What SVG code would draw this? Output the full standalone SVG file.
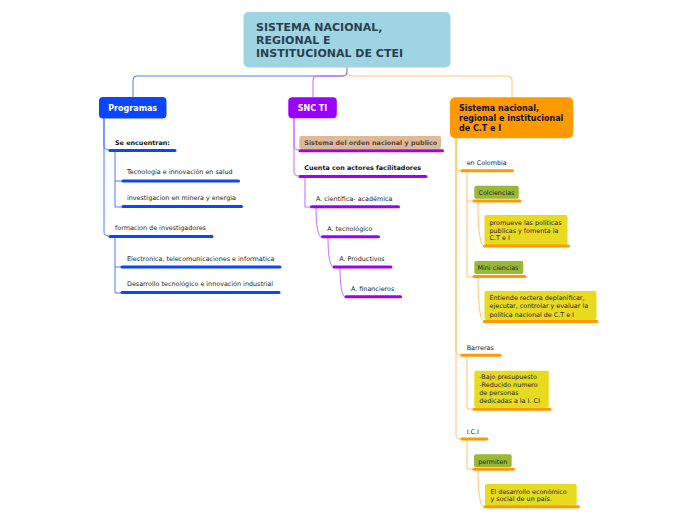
<svg xmlns="http://www.w3.org/2000/svg" width="696" height="520" viewBox="0 0 696 520">
<style>
text{font-family:"DejaVu Sans",Verdana,sans-serif;}
.t{font-size:6.4px;fill:#222;}
.tb{font-size:6.4px;font-weight:bold;fill:#111;}
.h{font-size:8px;font-weight:bold;}
.c{fill:none;stroke-width:1;}
.ub{stroke:#0a46ff;stroke-width:3;stroke-linecap:round;}
.up{stroke:#9900ff;stroke-width:3;stroke-linecap:round;}
.uo{stroke:#ff9900;stroke-width:3;stroke-linecap:round;}
.lb{stroke:#4d7aff;}
.lp{stroke:#bd6bff;}
.lo{stroke:#ffc46e;}
.grn{fill:#9bb834;}
.yel{fill:#e8da1f;}
</style>
<rect width="696" height="520" fill="#ffffff"/>
<g id="connectors">
<path class="c lb" d="M347,67 V72 Q347,76 343,76 H137 Q133,76 133,80 V97"/>
<path class="c lp" d="M347,67 V72 Q347,76 343,76 H317 Q313,76 313,80 V97" stroke="#9900ff"/>
<path class="c lo" d="M347,67 V72 Q347,76 351,76 H508 Q512,76 512,80 V97" stroke="#ff9900"/>
<path class="c lb" d="M104,118 V146 Q104,150 109,150"/>
<path class="c lb" d="M104,118 V232 Q104,236 109,236"/>
<path class="c lb" d="M115,151 V181 H122 M115,181 V207 H122"/>
<path class="c lb" d="M115,237 V267 H121 M115,267 V293 H121"/>
<path class="c lp" d="M294,118 V146 Q294,150 299,150"/>
<path class="c lp" d="M294,118 V172 Q294,176 299,176"/>
<path class="c lp" d="M305,177 V207 H311"/>
<path class="c lp" d="M316,207 C316,226 318,237 322,237"/>
<path class="c lp" d="M328,237 C328,256 330,267 334,267"/>
<path class="c lp" d="M340,267 C340,286 342,297 346,297"/>
<path class="c lo" d="M456,138 V167 Q456,171 461,171"/>
<path class="c lo" d="M456,138 V351 Q456,355 461,355"/>
<path class="c lo" d="M456,138 V435 Q456,439 461,439"/>
<path class="c lo" d="M467,171 V201 H473 M467,201 V277 H473"/>
<path class="c lo" d="M478,201 C478,228 480,246 484,246"/>
<path class="c lo" d="M478,277 C478,302 480,321 484,321"/>
<path class="c lo" d="M467,355 V409 H473"/>
<path class="c lo" d="M467,439 V469 H473"/>
<path class="c lo" d="M478,469 C478,492 480,507 484,507"/>
</g>
<g id="root">
<rect x="243.5" y="12" width="207" height="55.5" rx="5" fill="#9fd5e3"/>
<text x="256" y="31" font-size="11" font-weight="bold" fill="#2d3e50">SISTEMA NACIONAL,</text>
<text x="256" y="44" font-size="11" font-weight="bold" fill="#2d3e50">REGIONAL E</text>
<text x="256" y="57" font-size="11" font-weight="bold" fill="#2d3e50">INSTITUCIONAL DE CTEI</text>
</g>
<g id="programas">
<rect x="99" y="97" width="67.5" height="21.5" rx="4" fill="#0a46ff"/>
<text class="h" x="132.7" y="111" text-anchor="middle" fill="#ffffff">Programas</text>
</g>
<g id="se-encuentran">
<text class="tb" x="115" y="144.5">Se encuentran:</text>
<line class="ub" x1="110" y1="150.5" x2="175" y2="150.5"/>
</g>
<g id="tecnologia-salud">
<text class="t" x="127" y="174">Tecnología e innovación en salud</text>
<line class="ub" x1="123" y1="181" x2="238.5" y2="181"/>
</g>
<g id="investigacion-minera">
<text class="t" x="127" y="200">investigacion en minera y energia</text>
<line class="ub" x1="123" y1="206.5" x2="241.5" y2="206.5"/>
</g>
<g id="formacion">
<text class="t" x="115" y="230">formacion de investigadores</text>
<line class="ub" x1="110" y1="236.5" x2="212" y2="236.5"/>
</g>
<g id="electronica">
<text class="t" x="127" y="260.5">Electronica, telecomunicaciones e informatica</text>
<line class="ub" x1="122" y1="267" x2="280" y2="267"/>
</g>
<g id="desarrollo-tecnologico">
<text class="t" x="127" y="286">Desarrollo tecnológico e innovación industrial</text>
<line class="ub" x1="122" y1="292.5" x2="279" y2="292.5"/>
</g>
<g id="snc-ti">
<rect x="288.3" y="97.3" width="48.5" height="21" rx="4" fill="#9900ff"/>
<text class="h" x="312.5" y="111" text-anchor="middle" fill="#ffffff">SNC TI</text>
</g>
<g id="sistema-orden">
<rect x="299.3" y="136" width="141.7" height="13" rx="2" fill="#deb897"/>
<text class="tb" x="304.3" y="145" fill="#5a4636" style="fill:#5a4636">Sistema del orden nacional y publico</text>
<line class="up" x1="300" y1="150.7" x2="442.5" y2="150.7"/>
</g>
<g id="cuenta-actores">
<text class="tb" x="304.3" y="170">Cuenta con actores facilitadores</text>
<line class="up" x1="300" y1="176.5" x2="426" y2="176.5"/>
</g>
<g id="a-cientifica">
<text class="t" x="316" y="200.5">A. científica- académica</text>
<line class="up" x1="311.5" y1="206.8" x2="398.5" y2="206.8"/>
</g>
<g id="a-tecnologico">
<text class="t" x="327.3" y="230.5">A. tecnológico</text>
<line class="up" x1="322.5" y1="236.7" x2="378.5" y2="236.7"/>
</g>
<g id="a-productivos">
<text class="t" x="339.3" y="260.5">A. Productivos</text>
<line class="up" x1="334" y1="267" x2="391" y2="267"/>
</g>
<g id="a-financieros">
<text class="t" x="351" y="290.5">A. financieros</text>
<line class="up" x1="346" y1="296.7" x2="400.5" y2="296.7"/>
</g>
<g id="sistema-nacional">
<rect x="450" y="97.3" width="123.3" height="41" rx="5" fill="#ff9900"/>
<text class="h" x="459" y="110.7" fill="#111">Sistema nacional,</text>
<text class="h" x="459" y="121" fill="#111">regional e institucional</text>
<text class="h" x="459" y="131" fill="#111">de C.T e I</text>
</g>
<g id="en-colombia">
<text class="t" x="466.7" y="164.5">en Colombia</text>
<line class="uo" x1="462" y1="170.7" x2="512.5" y2="170.7"/>
</g>
<g id="colciencias">
<rect class="grn" x="474.3" y="185.7" width="44.5" height="13" rx="2"/>
<text class="t" x="478.5" y="194.5">Colciencias</text>
<line class="uo" x1="474" y1="201" x2="520" y2="201"/>
</g>
<g id="promueve">
<rect class="yel" x="484.5" y="215" width="83" height="30" rx="2"/>
<text class="t" x="489.5" y="225">promueve las politicas</text>
<text class="t" x="489.5" y="232.5">publicas y fomenta la</text>
<text class="t" x="489.5" y="240">C.T e I</text>
<line class="uo" x1="484.5" y1="246" x2="568.5" y2="246"/>
</g>
<g id="mini-ciencias">
<rect class="grn" x="474.3" y="261" width="49" height="13" rx="2"/>
<text class="t" x="477.5" y="269.5">Mini ciencias</text>
<line class="uo" x1="474" y1="276.5" x2="525" y2="276.5"/>
</g>
<g id="entiende">
<rect class="yel" x="484.5" y="291" width="112" height="29" rx="2"/>
<text class="t" x="489.5" y="300">Entiende rectera deplanificar,</text>
<text class="t" x="489.5" y="308.3">ejecutar, controlar y evaluar la</text>
<text class="t" x="489.5" y="316.6">politica nacional de C.T e I</text>
<line class="uo" x1="484.5" y1="321.5" x2="597" y2="321.5"/>
</g>
<g id="barreras">
<text class="t" x="466.7" y="349.5">Barreras</text>
<line class="uo" x1="462" y1="355.3" x2="500" y2="355.3"/>
</g>
<g id="bajo-presupuesto">
<rect class="yel" x="474.3" y="370.7" width="74.5" height="37" rx="2"/>
<text class="t" x="479.3" y="378.5">-Bajo presupuesto</text>
<text class="t" x="479.3" y="386.7">-Reducido numero</text>
<text class="t" x="479.3" y="395">de personas</text>
<text class="t" x="479.3" y="403">dedicadas a la I. CI</text>
<line class="uo" x1="474" y1="409.3" x2="550" y2="409.3"/>
</g>
<g id="ici">
<text class="t" x="466.7" y="433.5">I.C.I</text>
<line class="uo" x1="462" y1="439" x2="487" y2="439"/>
</g>
<g id="permiten">
<rect class="grn" x="474" y="454.3" width="37.7" height="13" rx="2"/>
<text class="t" x="478.3" y="463.5">permiten</text>
<line class="uo" x1="474" y1="469.3" x2="513.5" y2="469.3"/>
</g>
<g id="el-desarrollo">
<rect class="yel" x="485" y="484" width="91.7" height="21.5" rx="2"/>
<text class="t" x="490.5" y="493.5">El desarrollo económico</text>
<text class="t" x="490.5" y="501.3">y social de un país.</text>
<line class="uo" x1="485" y1="506.7" x2="578.5" y2="506.7"/>
</g>
</svg>
